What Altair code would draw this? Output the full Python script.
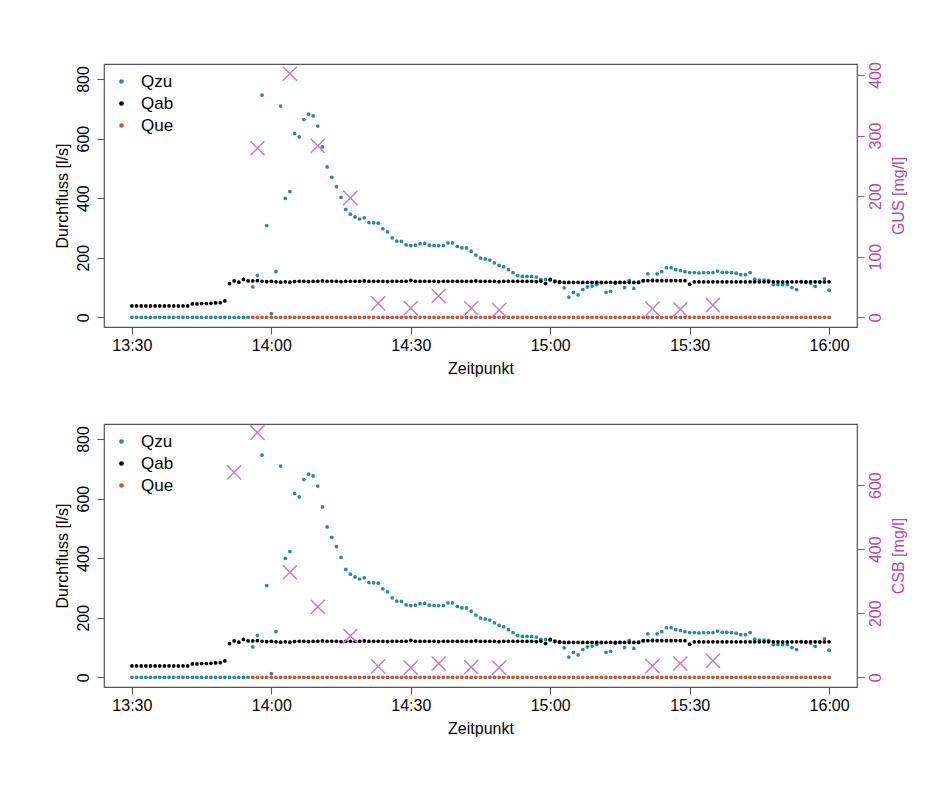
import altair as alt
import pandas as pd

# ---------------- data ----------------
time_tick_labels = ["13:30", "14:00", "14:30", "15:00", "15:30", "16:00"]
time_tick_minutes = [0, 30, 60, 90, 120, 150]

minutes = list(range(151))  # minutes after 13:30

qzu = ([0] * 26 +
       [102, 141, 746, 308, 12, 153, 709, 399, 422, 617, 606, 664, 682, 676, 642] +
       [572, 505, 470, 439, 403, 362, 346, 337, 330, 334, 318, 317, 316, 297, 287, 267, 256, 255, 243, 241] +
       [242, 247, 248, 242, 241, 241, 241, 250, 250, 238, 233, 233, 222, 209, 199, 196, 192, 183, 174, 170] +
       [160, 150, 140, 137, 137, 137, 135, 127, 127, 124, 122, 120, 99, 68, 84, 75, 93, 102, 105, 110] +
       [116, 84, 87, 114, 117, 100, 124, 97, 119, 122, 146, 125, 146, 153, 166, 167, 160, 157, 153, 150] +
       [150, 149, 150, 150, 150, 155, 151, 151, 150, 148, 143, 143, 150, 128, 125, 125, 124, 110, 110, 110] +
       [110, 100, 93, 120, 118, 115, 104, 118, 129, 91])

qab = ([38] * 13 +
       [45, 45, 46, 46, 47, 48, 49] +
       [55] +
       [113, 122, 118, 127, 122, 122, 123, 121, 120, 121, 119, 118, 119, 118, 120] +
       [121, 121, 120, 121, 121, 122, 121, 121, 121, 120, 121, 121, 121, 121, 122, 121, 121, 121,
        121, 120, 121, 121, 121, 121, 124, 121, 121, 121, 121, 121, 120, 121, 121, 121, 121, 121,
        121, 121, 122, 121, 121, 121, 121, 120, 121, 121, 121, 121, 121, 121, 121, 120, 121] +
       [114, 127, 120, 118] +
       [117] * 17 +
       [123] * 10 +
       [111] +
       [119] * 30)

que_minutes = list(range(26, 151))
que = [0] * 125

gus_minutes = [27, 34, 40, 47, 53, 60, 66, 73, 79, 112, 118, 125]
gus = [279, 402, 283, 197, 23, 15, 35, 15, 12, 14, 13, 20]

csb_minutes = [22, 27, 34, 40, 47, 53, 60, 66, 73, 79, 112, 118, 125]
csb = [640, 764, 328, 220, 129, 34, 30, 43, 32, 30, 35, 43, 51]

series_names = ["Qzu", "Qab", "Que"]
series_colors = ["#2a8d88", "#000000", "#c9553c"]
magenta = "#b5489f"
cross_color = "#c47cbc"

# ---------------- tables ----------------
rows = []
for t, v in zip(minutes, qzu):
    rows.append({"t": t, "value": v, "series": "Qzu", "ord": 0})
for t, v in zip(minutes, qab):
    rows.append({"t": t, "value": v, "series": "Qab", "ord": 1})
for t, v in zip(que_minutes, que):
    rows.append({"t": t, "value": v, "series": "Que", "ord": 2})
flow_df = pd.DataFrame(rows)
gus_df = pd.DataFrame({"t": gus_minutes, "value": gus})
csb_df = pd.DataFrame({"t": csb_minutes, "value": csb})

label_expr = ("[" + ",".join("'%s'" % s for s in time_tick_labels) + "][indexof(["
              + ",".join(str(m) for m in time_tick_minutes) + "], datum.value)]")

FONT = "Liberation Sans"
cross_path = "M-1,-1L1,1M-1,1L1,-1"


def panel(conc_df, conc_title, right_values, right_domain):
    x = alt.X("t:Q",
              scale=alt.Scale(domain=[-6, 156], nice=False, zero=False),
              axis=alt.Axis(values=time_tick_minutes, labelExpr=label_expr,
                            title="Zeitpunkt", labelPadding=3, titlePadding=7))
    flow = alt.Chart(flow_df).mark_point(filled=True, size=14, opacity=1).encode(
        x=x,
        y=alt.Y("value:Q",
                scale=alt.Scale(domain=[-32.6, 850.4], nice=False, zero=False),
                axis=alt.Axis(values=[0, 200, 400, 600, 800], title="Durchfluss [l/s]",
                              labelAngle=-90, labelAlign="center", labelBaseline="bottom",
                              labelPadding=6, titlePadding=5)),
        color=alt.Color("series:N",
                        scale=alt.Scale(domain=series_names, range=series_colors),
                        sort=series_names,
                        legend=alt.Legend(title=None, orient="top-left", offset=9,
                                          labelFontSize=17, labelFont=FONT, symbolType="circle",
                                          symbolSize=22, rowPadding=4, labelOffset=11,
                                          padding=0)),
        order=alt.Order("ord:Q"),
    )
    conc = alt.Chart(conc_df).mark_point(shape=cross_path, filled=False, size=200,
                                          strokeWidth=1.4, color=cross_color, opacity=1).encode(
        x=x,
        y=alt.Y("value:Q",
                scale=alt.Scale(domain=right_domain, nice=False, zero=False),
                axis=alt.Axis(orient="right", values=right_values, title=conc_title,
                              labelAngle=-90, labelAlign="center", labelBaseline="top",
                              labelPadding=3, labelColor=magenta, tickColor=magenta,
                              titleColor=magenta, titleAngle=-90, titleBaseline="top",
                              titlePadding=7)),
    )
    return alt.layer(flow, conc).resolve_scale(y="independent").properties(width=753, height=263)


top = panel(gus_df, "GUS [mg/l]", [0, 100, 200, 300, 400], [-16.1, 418.1])
bottom = panel(csb_df, "CSB [mg/l]", [0, 200, 400, 600], [-30.4, 791.0])

chart = alt.vconcat(top, bottom, spacing=45).resolve_scale(color="independent").properties(
    padding={"left": 45, "top": 53, "right": 20, "bottom": 30}
).configure(
    font=FONT,
    background="white",
).configure_view(
    stroke="#555555", strokeWidth=1.2,
).configure_axis(
    labelFont=FONT, titleFont=FONT, labelFontSize=16, titleFontSize=16,
    titleFontWeight="normal", labelColor="#000000", titleColor="#000000",
    tickColor="#555555", tickSize=7, tickWidth=1.1, domain=False, grid=False,
)

chart.save("out.html", embed_options={"renderer": "svg", "actions": False})
